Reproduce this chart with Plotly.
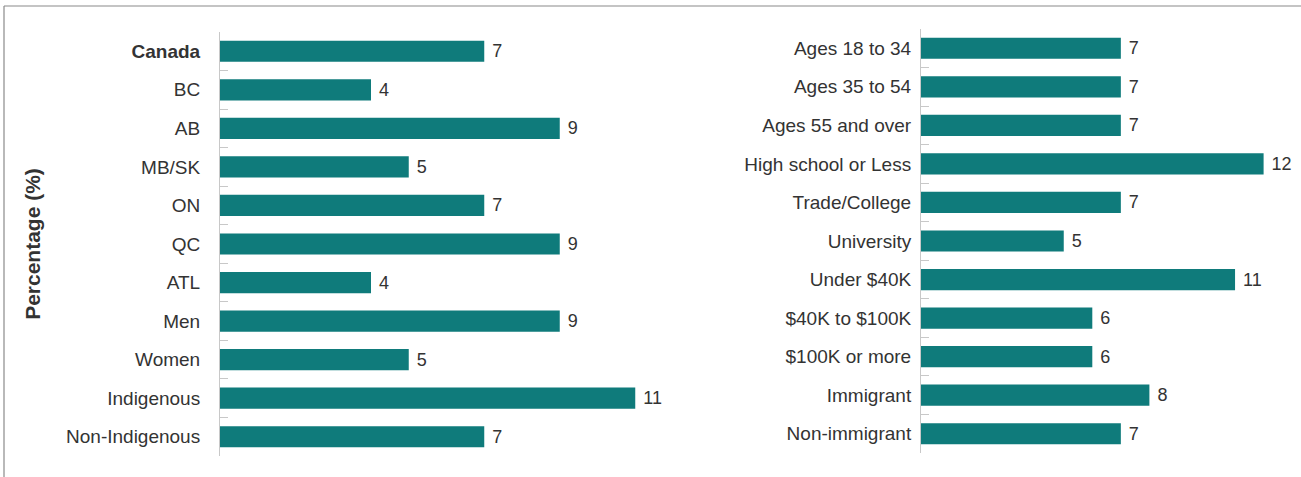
import plotly.graph_objects as go

left_categories = ["<b>Canada</b>", "BC", "AB", "MB/SK", "ON", "QC", "ATL", "Men", "Women",
                   "Indigenous", "Non-Indigenous"]
left_values = [7, 4, 9, 5, 7, 9, 4, 9, 5, 11, 7]

right_categories = ["Ages 18 to 34", "Ages 35 to 54", "Ages 55 and over", "High school or Less",
                    "Trade/College", "University", "Under $40K", "$40K to $100K",
                    "$100K or more", "Immigrant", "Non-immigrant"]
right_values = [7, 7, 7, 12, 7, 5, 11, 6, 6, 8, 7]

BAR = "#0f7b7b"
TXT = "#333333"
FONT = "Liberation Sans"
FS = 19

fig = go.Figure()
fig.add_trace(go.Bar(
    x=left_values, y=left_categories, orientation="h",
    marker=dict(color=BAR, line=dict(width=0)),
    text=[str(v) for v in left_values], texttemplate=" %{text}", textposition="outside",
    textfont=dict(family=FONT, size=FS - 1, color=TXT),
    cliponaxis=False, xaxis="x", yaxis="y", hoverinfo="skip", showlegend=False,
))
fig.add_trace(go.Bar(
    x=right_values, y=right_categories, orientation="h",
    marker=dict(color=BAR, line=dict(width=0)),
    text=[str(v) for v in right_values], texttemplate=" %{text}", textposition="outside",
    textfont=dict(family=FONT, size=FS - 1, color=TXT),
    cliponaxis=False, xaxis="x2", yaxis="y2", hoverinfo="skip", showlegend=False,
))

L, R, T, B = 220, 11, 29, 21
W, H = 1301, 477
pw = W - L - R
ph = H - T - B

def px_x(p):
    return (p - L) / pw

def px_y(p):
    return (H - B - p) / ph

fig.update_layout(
    width=W, height=H,
    margin=dict(l=L, r=R, t=T, b=B),
    paper_bgcolor="white", plot_bgcolor="white",
    bargap=0.45,
    font=dict(family=FONT, size=FS, color=TXT),
    xaxis=dict(domain=[0, px_x(680)], range=[0, 460 / 37.75], visible=False, fixedrange=True),
    xaxis2=dict(domain=[px_x(921), 1], range=[0, 369 / 28.55], visible=False, fixedrange=True),
    yaxis=dict(domain=[px_y(456), px_y(32)], anchor="x", autorange="reversed",
               categoryorder="array", categoryarray=left_categories,
               showline=True, linecolor="#c8c8c8", linewidth=1,
               ticks="inside", tickson="boundaries", ticklen=8, tickcolor="#c8c8c8",
               ticklabelstandoff=15, showgrid=False, zeroline=False,
               tickfont=dict(family=FONT, size=FS, color=TXT),
               title=dict(text="<b>Percentage (%)</b>", standoff=19,
                          font=dict(family=FONT, size=21, color=TXT))),
    yaxis2=dict(domain=[px_y(453), px_y(29)], anchor="x2", autorange="reversed",
                categoryorder="array", categoryarray=right_categories,
                showline=True, linecolor="#c8c8c8", linewidth=1,
                ticks="inside", tickson="boundaries", ticklen=8, tickcolor="#c8c8c8",
                ticklabelstandoff=5, showgrid=False, zeroline=False,
                tickfont=dict(family=FONT, size=FS, color=TXT)),
    shapes=[
        dict(type="line", xref="paper", yref="paper", x0=px_x(4), x1=1.05,
             y0=px_y(6), y1=px_y(6), line=dict(color="#8a8a8a", width=1.2)),
        dict(type="line", xref="paper", yref="paper", x0=px_x(4), x1=px_x(4),
             y0=px_y(6), y1=-0.1, line=dict(color="#8a8a8a", width=1.2)),
    ],
)

fig.write_html("out.html", config={"displayModeBar": False},
               post_script="document.body.style.margin='0';")
